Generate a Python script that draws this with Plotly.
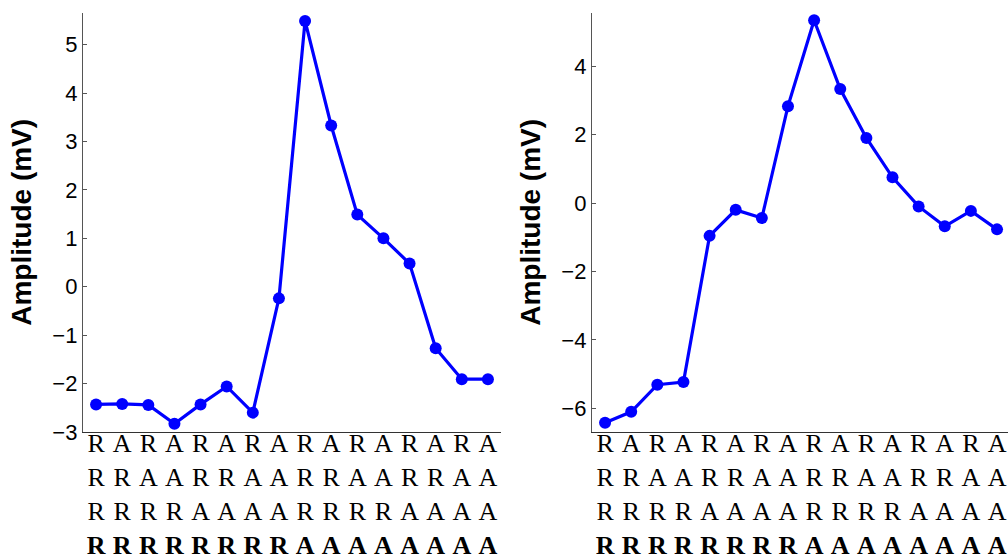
import plotly.graph_objects as go

# Sample index along the beat (16 samples per panel)
samples = list(range(1, 17))

# Four-row symbol labels under each sample
row1 = ["R", "A", "R", "A", "R", "A", "R", "A", "R", "A", "R", "A", "R", "A", "R", "A"]
row2 = ["R", "R", "A", "A", "R", "R", "A", "A", "R", "R", "A", "A", "R", "R", "A", "A"]
row3 = ["R", "R", "R", "R", "A", "A", "A", "A", "R", "R", "R", "R", "A", "A", "A", "A"]
row4 = ["R", "R", "R", "R", "R", "R", "R", "R", "A", "A", "A", "A", "A", "A", "A", "A"]

# Amplitudes in mV
left_amp = [-2.43, -2.42, -2.44, -2.83, -2.43, -2.06, -2.60, -0.24,
            5.49, 3.33, 1.49, 1.00, 0.48, -1.27, -1.91, -1.91]
right_amp = [-6.42, -6.10, -5.31, -5.23, -0.96, -0.20, -0.44, 2.83,
             5.34, 3.33, 1.90, 0.75, -0.10, -0.68, -0.23, -0.77]

left_yticks = [-3, -2, -1, 0, 1, 2, 3, 4, 5]
right_yticks = [-6, -4, -2, 0, 2, 4]

ticktext = [f"{a}<br>{b}<br>{c}<br><b>{d}</b>" for a, b, c, d in zip(row1, row2, row3, row4)]

W, H = 1008, 559
BLUE = "#0000ff"

fig = go.Figure()
for amp, xa, ya in [(left_amp, "x", "y"), (right_amp, "x2", "y2")]:
    fig.add_trace(go.Scatter(
        x=samples, y=amp, xaxis=xa, yaxis=ya, mode="lines+markers",
        line=dict(color=BLUE, width=3.2),
        marker=dict(color=BLUE, size=12),
        showlegend=False, cliponaxis=False,
    ))

y_dom = [(H - 432) / H, (H - 12.7) / H]

xcommon = dict(
    tickmode="array", tickvals=samples, ticktext=ticktext,
    tickfont=dict(family="Liberation Serif", size=26, color="black"),
    showline=True, linecolor="#333333", linewidth=1.3,
    showgrid=False, zeroline=False, ticks="", automargin=False,
    ticklabelstandoff=-12,
)
ycommon = dict(
    showline=True, linecolor="#555555", linewidth=1.3,
    showgrid=False, zeroline=False, ticks="inside", ticklen=4,
    tickcolor="#555555", tickfont=dict(family="Liberation Sans", size=22, color="black"),
    automargin=False, domain=y_dom,
    title=dict(text="<b>Amplitude (mV)</b>",
               font=dict(family="Liberation Sans", size=28, color="black")),
)

fig.update_layout(
    width=W, height=H,
    margin=dict(l=0, r=0, t=0, b=0),
    paper_bgcolor="white", plot_bgcolor="white",
    xaxis=dict(xcommon, domain=[83 / W, 501 / W], range=[0.5, 16.5], anchor="y"),
    yaxis=dict(ycommon, range=[-3, 5.66], tickvals=left_yticks, anchor="x",
               title_standoff=12),
    xaxis2=dict(xcommon, domain=[592 / W, 1.0], range=[0.5, 16.42], anchor="y2"),
    yaxis2=dict(ycommon, range=[-6.69, 5.56], tickvals=right_yticks, anchor="x2",
                title_standoff=12),
)

fig.write_html("out.html")
